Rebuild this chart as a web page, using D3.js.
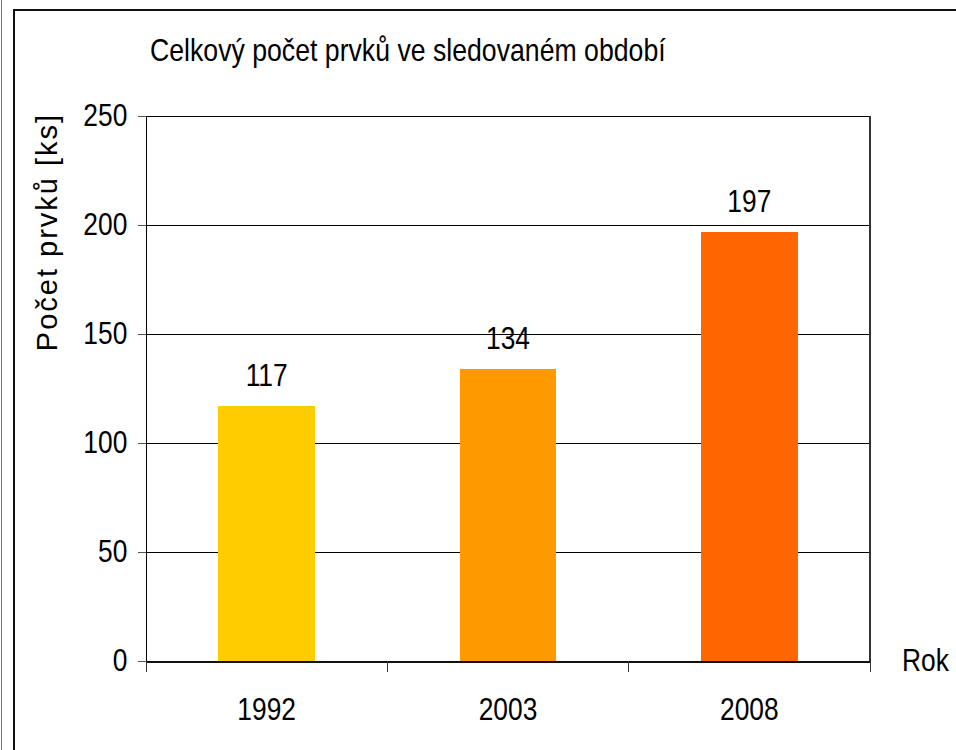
<!DOCTYPE html>
<meta charset="utf-8">
<script src="https://d3js.org/d3.v7.min.js"></script>
<style>
  body { margin: 0; background: #fff; }
  text { font-family: "Liberation Sans", Arial, sans-serif; fill: #000; }
  line, path, rect { shape-rendering: crispEdges; }
  .ylab { letter-spacing: 2px; }
</style>
<body>
<svg id="chart" width="956" height="750"></svg>
<script>
  // data
  var years = ["1992", "2003", "2008"];
  var counts = [117, 134, 197];
  var barColors = ["#ffcc00", "#ff9900", "#ff6600"];
  var yTicks = [0, 50, 100, 150, 200, 250];

  var svg = d3.select("#chart");
  var squeeze = "scale(0.85,1)"; // narrow look of the original font

  // frame lines
  svg.append("line").attr("x1", 1.5).attr("x2", 1.5).attr("y1", 0).attr("y2", 750)
    .attr("stroke", "#777").attr("stroke-width", 1);
  svg.append("path").attr("d", "M14,750V10H956")
    .attr("fill", "none").attr("stroke", "#111").attr("stroke-width", 2);

  var pLeft = 146, pRight = 870, pTop = 116, pBottom = 661;

  var x = d3.scaleBand().domain(years).range([pLeft, pRight]).padding(0);
  var y = d3.scaleLinear().domain([0, 250]).range([pBottom, pTop]);

  // gridlines
  svg.append("g").selectAll("line").data(yTicks.slice(1)).enter().append("line")
    .attr("x1", pLeft).attr("x2", pRight)
    .attr("y1", d => y(d)).attr("y2", d => y(d))
    .attr("stroke", "#000").attr("stroke-width", 1);

  // right border of plot
  svg.append("line").attr("x1", pRight).attr("x2", pRight).attr("y1", pTop).attr("y2", pBottom)
    .attr("stroke", "#333").attr("stroke-width", 1.5);

  // bars
  var bw = x.bandwidth() * 0.4;
  svg.append("g").selectAll("rect").data(counts).enter().append("rect")
    .attr("x", (d, i) => x(years[i]) + x.bandwidth() / 2 - bw / 2)
    .attr("width", bw)
    .attr("y", d => y(d))
    .attr("height", d => pBottom - y(d))
    .attr("fill", (d, i) => barColors[i]);

  // value labels
  svg.append("g").selectAll("g").data(counts).enter().append("g")
    .attr("transform", (d, i) => "translate(" + (x(years[i]) + x.bandwidth() / 2) + "," + (y(d) - 20) + ")")
    .append("text")
    .attr("transform", squeeze)
    .attr("text-anchor", "middle")
    .style("font-size", "31px")
    .text(d => d);

  // y axis
  var yAxis = svg.append("g").attr("transform", "translate(" + pLeft + ",0)")
    .call(d3.axisLeft(y).tickValues(yTicks).tickSize(8).tickPadding(14));
  yAxis.select(".domain").attr("stroke", "#000").attr("stroke-width", 1.5);
  yAxis.selectAll(".tick line").attr("stroke", "#555");
  yAxis.selectAll("text").style("font-size", "31px").attr("transform", squeeze);

  // x axis
  var xAxis = svg.append("g").attr("transform", "translate(0," + pBottom + ")")
    .call(d3.axisBottom(x).tickSize(0).tickPadding(37));
  xAxis.select(".domain").attr("stroke", "#111").attr("stroke-width", 2);
  xAxis.selectAll("text").style("font-size", "31px").attr("transform", squeeze);
  // category boundary ticks
  xAxis.selectAll(".sep").data(years.concat(["end"])).enter().append("line")
    .attr("class", "sep")
    .attr("x1", (d, i) => pLeft + i * x.step()).attr("x2", (d, i) => pLeft + i * x.step())
    .attr("y1", 0).attr("y2", 11)
    .attr("stroke", "#333").attr("stroke-width", 1);

  // titles
  svg.append("text").attr("transform", "translate(150,61) scale(0.86,1)")
    .style("font-size", "31px")
    .text("Celkový počet prvků ve sledovaném období");

  svg.append("text").attr("class", "ylab")
    .attr("transform", "translate(57,232) rotate(-90)")
    .attr("text-anchor", "middle")
    .style("font-size", "29px")
    .text("Počet prvků [ks]");

  svg.append("text").attr("transform", "translate(902,671) " + squeeze)
    .style("font-size", "31px")
    .text("Rok");
</script>
</body>
